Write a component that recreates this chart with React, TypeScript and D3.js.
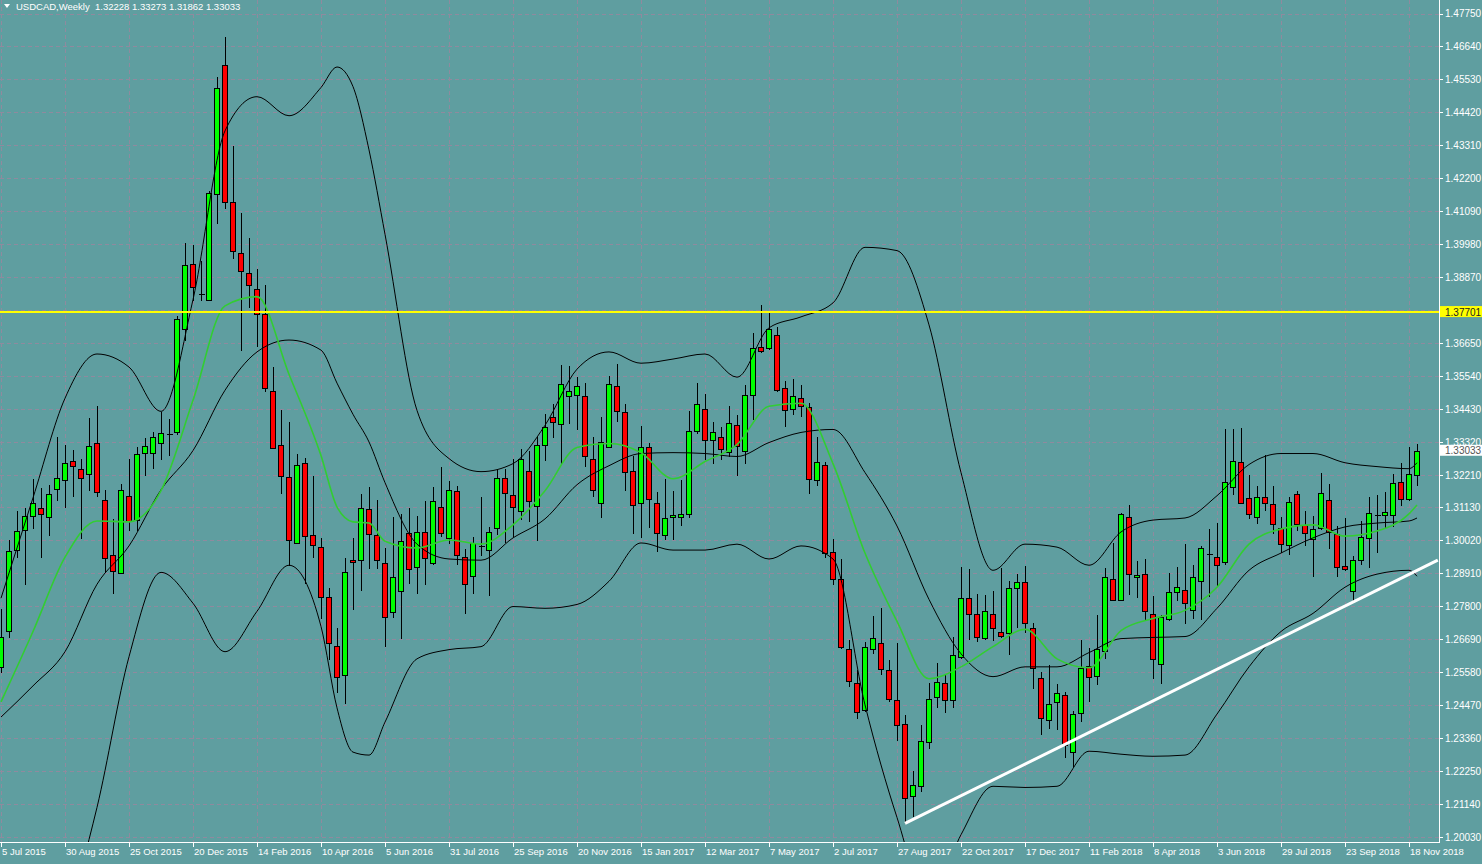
import * as d3 from "d3";

const WIDTH = 1482;
const HEIGHT = 864;
const PLOT_RIGHT = 1439;
const PLOT_BOTTOM = 842;
const FONT = "'Liberation Sans', Arial, sans-serif";

// USDCAD weekly candles, week of 5 Jul 2015 .. week of 25 Nov 2018
const opens = [
  1.2576, 1.2695, 1.2968, 1.3036, 1.3083, 1.3112, 1.3081, 1.3174, 1.3205, 1.3269,
  1.3242, 1.3225, 1.333, 1.3139, 1.2951, 1.2892, 1.315, 1.3069, 1.3296, 1.3296,
  1.333, 1.336, 1.3366, 1.3713, 1.3932, 1.3832, 1.3812, 1.4166, 1.4602, 1.4142,
  1.3968, 1.39, 1.3848, 1.3763, 1.3506, 1.3322, 1.3214, 1.2994, 1.3263, 1.3021,
  1.298, 1.2811, 1.2645, 1.2547, 1.2935, 1.2937, 1.3107, 1.302, 1.2927, 1.276,
  1.283, 1.3027, 1.2911, 1.3031, 1.2927, 1.3114, 1.3009, 1.3169, 1.2945, 1.2883,
  1.2983, 1.297, 1.3042, 1.3211, 1.3154, 1.31, 1.3235, 1.3117, 1.3323, 1.3418,
  1.3395, 1.3487, 1.349, 1.3486, 1.3276, 1.3129, 1.3315, 1.3521, 1.3433, 1.3235,
  1.3127, 1.3315, 1.3126, 1.3019, 1.3081, 1.308, 1.309, 1.3371, 1.3444, 1.3338,
  1.3351, 1.3298, 1.3391, 1.3303, 1.349, 1.3651, 1.3648, 1.3693, 1.3513, 1.3445,
  1.3481, 1.345, 1.3205, 1.3257, 1.2962, 1.287, 1.2636, 1.2522, 1.243, 1.2636,
  1.2657, 1.2565, 1.2464, 1.2385, 1.2142, 1.2176, 1.2323, 1.2473, 1.252, 1.2464,
  1.2608, 1.2808, 1.2754, 1.2672, 1.2755, 1.2694, 1.269, 1.2843, 1.286, 1.2706,
  1.254, 1.2398, 1.2458, 1.248, 1.2291, 1.2421, 1.2579, 1.2546, 1.2629, 1.287,
  1.2801, 1.3082, 1.2877, 1.2887, 1.2755, 1.2586, 1.2738, 1.2828, 1.2836, 1.2768,
  1.2866, 1.2957, 1.2945, 1.293, 1.318, 1.3264, 1.3144, 1.3081, 1.3148, 1.3124,
  1.3042, 1.2985, 1.3157, 1.3052, 1.3005, 1.3045, 1.3137, 1.3022, 1.2917, 1.283,
  1.2934, 1.3009, 1.3087, 1.3087, 1.3087, 1.3199, 1.3142, 1.32228,
];
const highs = [
  1.277, 1.3002, 1.3099, 1.3112, 1.3208, 1.3178, 1.3189, 1.3351, 1.3324, 1.3306,
  1.3276, 1.3413, 1.3453, 1.3171, 1.3073, 1.3193, 1.3277, 1.3315, 1.3345, 1.3368,
  1.3434, 1.3411, 1.3757, 1.4002, 1.3995, 1.3941, 1.4177, 1.4561, 1.4696, 1.4329,
  1.4102, 1.4018, 1.3914, 1.386, 1.3584, 1.3442, 1.3401, 1.3291, 1.3278, 1.3217,
  1.3009, 1.284, 1.2708, 1.2943, 1.3009, 1.3157, 1.3182, 1.3137, 1.2975, 1.3081,
  1.3092, 1.3112, 1.3084, 1.3135, 1.3182, 1.325, 1.3202, 1.3186, 1.2971, 1.3013,
  1.3146, 1.3047, 1.3242, 1.3242, 1.3276, 1.331, 1.3302, 1.3351, 1.3428, 1.3462,
  1.3592, 1.3588, 1.3552, 1.3533, 1.3351, 1.3417, 1.3555, 1.3597, 1.346, 1.3284,
  1.3385, 1.3329, 1.3163, 1.3208, 1.3169, 1.3205, 1.3436, 1.3533, 1.3496, 1.34,
  1.3383, 1.3453, 1.3422, 1.3524, 1.3699, 1.3795, 1.3767, 1.3719, 1.3537, 1.3544,
  1.3526, 1.3464, 1.3349, 1.3264, 1.3007, 1.294, 1.2667, 1.2565, 1.2659, 1.2746,
  1.2774, 1.2599, 1.2655, 1.2415, 1.2227, 1.2379, 1.252, 1.259, 1.255, 1.2675,
  1.2911, 1.2907, 1.2821, 1.2819, 1.283, 1.2909, 1.2864, 1.2887, 1.2915, 1.2723,
  1.256, 1.2582, 1.2517, 1.2492, 1.2427, 1.2667, 1.2638, 1.2751, 1.2909, 1.2994,
  1.3095, 1.312, 1.2932, 1.294, 1.2813, 1.2751, 1.2892, 1.2911, 1.299, 1.2918,
  1.2982, 1.3041, 1.3061, 1.3377, 1.3377, 1.3381, 1.3223, 1.3186, 1.329, 1.3186,
  1.3081, 1.3148, 1.3169, 1.3099, 1.3084, 1.3227, 1.3191, 1.305, 1.3076, 1.2949,
  1.3067, 1.3146, 1.3155, 1.3165, 1.3225, 1.3261, 1.3315, 1.33273,
];
const lows = [
  1.2555, 1.2672, 1.2943, 1.2853, 1.3041, 1.2943, 1.3016, 1.3135, 1.311, 1.3148,
  1.3005, 1.3169, 1.3146, 1.2892, 1.2821, 1.2888, 1.3033, 1.3033, 1.3217, 1.3242,
  1.3273, 1.3287, 1.3358, 1.3672, 1.3809, 1.3809, 1.3808, 1.4065, 1.4116, 1.3948,
  1.364, 1.3784, 1.3652, 1.35, 1.331, 1.3158, 1.2914, 1.2989, 1.2855, 1.2943,
  1.2738, 1.26, 1.2488, 1.2452, 1.2767, 1.283, 1.2904, 1.2907, 1.2644, 1.274,
  1.267, 1.2855, 1.2821, 1.2853, 1.292, 1.3013, 1.2988, 1.2918, 1.2753, 1.2821,
  1.2949, 1.2813, 1.302, 1.2994, 1.3013, 1.3069, 1.3065, 1.2999, 1.327, 1.3347,
  1.3259, 1.3394, 1.3372, 1.3247, 1.3146, 1.3076, 1.3313, 1.34, 1.3169, 1.3022,
  1.3011, 1.3044, 1.2962, 1.3002, 1.3002, 1.305, 1.3076, 1.336, 1.3273, 1.3259,
  1.3273, 1.3281, 1.3217, 1.3259, 1.3408, 1.3633, 1.3642, 1.3501, 1.3383, 1.3422,
  1.3417, 1.3159, 1.3186, 1.2941, 1.285, 1.2636, 1.2509, 1.2401, 1.2424, 1.2618,
  1.2548, 1.2458, 1.2328, 1.2046, 1.2069, 1.2156, 1.23, 1.2439, 1.2422, 1.2439,
  1.2604, 1.2667, 1.2659, 1.2667, 1.2663, 1.2672, 1.2616, 1.2706, 1.2689, 1.2503,
  1.2345, 1.2368, 1.2362, 1.2268, 1.2238, 1.239, 1.2458, 1.2514, 1.2604, 1.2796,
  1.2796, 1.2817, 1.2807, 1.2729, 1.2535, 1.2517, 1.2731, 1.2796, 1.272, 1.2738,
  1.2734, 1.2811, 1.2847, 1.292, 1.3155, 1.3124, 1.3073, 1.3058, 1.3101, 1.3024,
  1.296, 1.2954, 1.3033, 1.2983, 1.2877, 1.3036, 1.2971, 1.2877, 1.29, 1.2794,
  1.292, 1.2909, 1.296, 1.3044, 1.3047, 1.3118, 1.3135, 1.31862,
];
const closes = [
  1.2678, 1.2965, 1.3033, 1.3084, 1.3126, 1.309, 1.3157, 1.3211, 1.3262, 1.3252,
  1.3211, 1.332, 1.3166, 1.2941, 1.29, 1.3171, 1.3067, 1.3293, 1.3318, 1.3348,
  1.3364, 1.3357, 1.3746, 1.3929, 1.3853, 1.3829, 1.4171, 1.4524, 1.4142, 1.3977,
  1.391, 1.386, 1.3763, 1.3515, 1.3314, 1.3219, 1.3002, 1.3256, 1.3016, 1.2985,
  1.2811, 1.2657, 1.2543, 1.2896, 1.2928, 1.3111, 1.3022, 1.2937, 1.2744, 1.288,
  1.2998, 1.2904, 1.3031, 1.2941, 1.3134, 1.3027, 1.3172, 1.2954, 1.2855, 1.2993,
  1.2981, 1.3029, 1.3211, 1.3161, 1.3114, 1.3276, 1.3134, 1.3324, 1.3383, 1.3399,
  1.3527, 1.3503, 1.3521, 1.3286, 1.3171, 1.3334, 1.3527, 1.3436, 1.3231, 1.312,
  1.3315, 1.314, 1.3027, 1.3078, 1.3088, 1.309, 1.3371, 1.3462, 1.334, 1.3367,
  1.3308, 1.3398, 1.3318, 1.3492, 1.3648, 1.364, 1.3713, 1.3507, 1.3442, 1.3488,
  1.3454, 1.3208, 1.3264, 1.2958, 1.287, 1.2642, 1.2528, 1.2424, 1.2644, 1.2674,
  1.2569, 1.2469, 1.2379, 1.2134, 1.218, 1.2325, 1.2469, 1.2525, 1.2464, 1.2616,
  1.2808, 1.2754, 1.2675, 1.2765, 1.2708, 1.2681, 1.2841, 1.2862, 1.2722, 1.2573,
  1.2404, 1.2452, 1.2487, 1.2313, 1.2416, 1.2571, 1.2543, 1.2635, 1.2877, 1.2802,
  1.309, 1.2887, 1.2884, 1.2765, 1.2602, 1.2745, 1.2828, 1.2844, 1.2791, 1.2878,
  1.2975, 1.2955, 1.2918, 1.3198, 1.3268, 1.3128, 1.309, 1.3148, 1.3128, 1.3056,
  1.2988, 1.3131, 1.3056, 1.3025, 1.3039, 1.3162, 1.303, 1.2911, 1.2906, 1.2937,
  1.3013, 1.3095, 1.3085, 1.3097, 1.3195, 1.314, 1.3225, 1.33033,
];

// indicator lines at these bars
const bandBars = [
  0, 4, 8, 12, 16, 20, 24, 28, 32, 36, 40, 42, 44, 46, 48, 52, 56, 60, 64, 68, 72,
  76, 80, 84, 88, 92, 96, 100, 104, 108, 112, 116, 120, 124, 128, 132, 136, 140,
  144, 148, 152, 156, 160, 164, 168, 172, 176, 177,
];
const bbUpper = [
  1.2807, 1.3145, 1.348, 1.3629, 1.3585, 1.3436, 1.3812, 1.438, 1.4495, 1.4431,
  1.4526, 1.4595, 1.4529, 1.4316, 1.4032, 1.3439, 1.3277, 1.3233, 1.326, 1.3389,
  1.3578, 1.3636, 1.3598, 1.3612, 1.3629, 1.3551, 1.3717, 1.3754, 1.3801, 1.3988,
  1.3977, 1.3727, 1.323, 1.2901, 1.2989, 1.2979, 1.2918, 1.303, 1.307, 1.3077,
  1.3152, 1.3257, 1.3294, 1.3294, 1.3263, 1.325, 1.3243, 1.3263,
];
const bbMiddle = [
  1.2407, 1.2512, 1.2627, 1.2854, 1.2983, 1.3172, 1.3304, 1.3507, 1.3636, 1.3676,
  1.3642, 1.3531, 1.3426, 1.3333, 1.3196, 1.2989, 1.2939, 1.2935, 1.301, 1.3074,
  1.3189, 1.3253, 1.3294, 1.3297, 1.3294, 1.3284, 1.3331, 1.3365, 1.3375, 1.323,
  1.305, 1.2803, 1.262, 1.2543, 1.2576, 1.2576, 1.2624, 1.2671, 1.2675, 1.2678,
  1.2773, 1.2901, 1.2959, 1.301, 1.3047, 1.306, 1.3067, 1.3077,
];
const bbLower = [
  1.1172, 1.1443, 1.1713, 1.2103, 1.261, 1.2894, 1.279, 1.2627, 1.2763, 1.2918,
  1.2712, 1.2438, 1.2289, 1.2279, 1.239, 1.2603, 1.2634, 1.2644, 1.2779, 1.2773,
  1.2786, 1.2864, 1.2993, 1.2969, 1.2969, 1.2989, 1.2939, 1.2983, 1.2939, 1.2448,
  1.2069, 1.1781, 1.2011, 1.2174, 1.217, 1.2174, 1.2292, 1.2282, 1.2275, 1.2279,
  1.2417, 1.2576, 1.2695, 1.2756, 1.2844, 1.2888, 1.2901, 1.2881,
];
const maGreen = [
  1.2458, 1.2695, 1.2945, 1.3067, 1.3064, 1.3169, 1.3473, 1.3791, 1.3822, 1.3561,
  1.3287, 1.3114, 1.3064, 1.306, 1.2999, 1.2976, 1.3003, 1.2989, 1.3054, 1.3169,
  1.3314, 1.3328, 1.3297, 1.3209, 1.3267, 1.3324, 1.3453, 1.3463, 1.326, 1.2959,
  1.2729, 1.2536, 1.2576, 1.2644, 1.2702, 1.2603, 1.2573, 1.2698, 1.2739, 1.2766,
  1.2844, 1.2989, 1.304, 1.3054, 1.3016, 1.3033, 1.3091, 1.3121,
];

const priceTicks = [
  "1.47750", "1.46640", "1.45530", "1.44420", "1.43310", "1.42200", "1.41090",
  "1.39980", "1.38870", "1.37760", "1.36650", "1.35540", "1.34430", "1.33320",
  "1.32210", "1.31130", "1.30020", "1.28910", "1.27800", "1.26690", "1.25580",
  "1.24470", "1.23360", "1.22250", "1.21140", "1.20030",
];
const dateBars = [0, 8, 16, 24, 32, 40, 48, 56, 64, 72, 80, 88, 96, 104, 112, 120, 128, 136, 144, 152, 160, 168, 176];
const dateLabels = [
  "5 Jul 2015", "30 Aug 2015", "25 Oct 2015", "20 Dec 2015", "14 Feb 2016",
  "10 Apr 2016", "5 Jun 2016", "31 Jul 2016", "25 Sep 2016", "20 Nov 2016",
  "15 Jan 2017", "12 Mar 2017", "7 May 2017", "2 Jul 2017", "27 Aug 2017",
  "22 Oct 2017", "17 Dec 2017", "11 Feb 2018", "8 Apr 2018", "3 Jun 2018",
  "29 Jul 2018", "23 Sep 2018", "18 Nov 2018",
];

const levelPrice = 1.37701;
const lastPrice = 1.33033;
const trendBars = [113, 179.6];
const trendPrices = [1.2049, 1.2935];

const GRID = "#8f8a9e";

const App = () => {
  const x = d3.scaleLinear().domain([0, 1]).range([1, 9]);
  const y = d3.scaleLinear().domain([1.19831, 1.48205]).range([PLOT_BOTTOM + 1, 0]);

  const bandLine = (vals: number[]) =>
    d3
      .line<number>()
      .x((_, i) => x(bandBars[i]))
      .y((d) => y(d))
      .curve(d3.curveMonotoneX)(vals) ?? "";

  const trendPath =
    d3
      .line<number>()
      .x((_, i) => x(trendBars[i]))
      .y((d) => y(d))(trendPrices) ?? "";

  const px = (v: number) => Math.round(v) + 0.5;

  return (
    <div>
      <style>{"body{margin:0}"}</style>
      <svg width={WIDTH} height={HEIGHT} style={{ display: "block", background: "#5f9ea0" }} fontFamily={FONT}>
        <defs>
          <clipPath id="plot">
            <rect x={0} y={0} width={PLOT_RIGHT} height={PLOT_BOTTOM} />
          </clipPath>
        </defs>

        {/* grid */}
        <g stroke={GRID} strokeDasharray="4 3" shapeRendering="crispEdges">
          {priceTicks.map((t) => (
            <line key={t} x1={0} x2={PLOT_RIGHT} y1={px(y(+t))} y2={px(y(+t))} />
          ))}
          {dateBars.map((b) => (
            <line key={b} x1={px(x(b))} x2={px(x(b))} y1={0} y2={PLOT_BOTTOM} />
          ))}
        </g>

        <g clipPath="url(#plot)">
          {/* candles */}
          <g shapeRendering="crispEdges">
            {closes.map((c, i) => {
              const o = opens[i];
              const cx = px(x(i));
              const top = Math.round(y(Math.max(o, c)));
              const bot = Math.round(y(Math.min(o, c)));
              const doji = bot - top < 2;
              return (
                <g key={i}>
                  <line x1={cx} x2={cx} y1={Math.round(y(highs[i]))} y2={Math.round(y(lows[i]))} stroke="#000" />
                  {doji ? (
                    <line x1={cx - 3} x2={cx + 3} y1={top + 0.5} y2={top + 0.5} stroke="#000" />
                  ) : (
                    <rect
                      x={cx - 3}
                      y={top + 0.5}
                      width={5}
                      height={bot - top}
                      fill={c > o ? "#00ff00" : "#ff0000"}
                      stroke="#000"
                    />
                  )}
                </g>
              );
            })}
          </g>

          {/* bollinger bands and moving average */}
          <g fill="none">
            <path d={bandLine(bbUpper)} stroke="#000" strokeWidth={1} />
            <path d={bandLine(bbMiddle)} stroke="#000" strokeWidth={1} />
            <path d={bandLine(bbLower)} stroke="#000" strokeWidth={1} />
            <path d={bandLine(maGreen)} stroke="#32cd32" strokeWidth={1.6} />
          </g>

          <line x1={0} x2={PLOT_RIGHT} y1={y(levelPrice)} y2={y(levelPrice)} stroke="#ffff00" strokeWidth={2} />
          <path d={trendPath} stroke="#ffffff" strokeWidth={3} fill="none" />
        </g>

        {/* axes */}
        <g stroke="#ffffff" shapeRendering="crispEdges">
          <line x1={PLOT_RIGHT + 0.5} x2={PLOT_RIGHT + 0.5} y1={0} y2={PLOT_BOTTOM + 1} />
          <line x1={0} x2={PLOT_RIGHT + 1} y1={PLOT_BOTTOM + 0.5} y2={PLOT_BOTTOM + 0.5} />
          {priceTicks.map((t) => (
            <line key={t} x1={PLOT_RIGHT} x2={PLOT_RIGHT + 4} y1={px(y(+t))} y2={px(y(+t))} />
          ))}
          {dateBars.map((b) => (
            <line key={b} x1={px(x(b))} x2={px(x(b))} y1={PLOT_BOTTOM} y2={PLOT_BOTTOM + 5} />
          ))}
        </g>
        <g fill="#ffffff">
          {priceTicks.map((t) => (
            <text key={t} x={PLOT_RIGHT + 6} y={y(+t) + 3.5} fontSize={10}>
              {t}
            </text>
          ))}
          {dateLabels.map((d, i) => (
            <text key={d} x={x(dateBars[i]) + 1} y={855} fontSize={9.5}>
              {d}
            </text>
          ))}
        </g>

        {/* price markers */}
        <rect x={PLOT_RIGHT + 1} y={y(levelPrice) - 6} width={WIDTH - PLOT_RIGHT - 1} height={11} fill="#ffff00" />
        <text x={PLOT_RIGHT + 6} y={y(levelPrice) + 3.5} fontSize={10} fill="#222">
          {levelPrice.toFixed(5)}
        </text>
        <rect x={PLOT_RIGHT + 1} y={y(lastPrice) - 6} width={WIDTH - PLOT_RIGHT - 1} height={11} fill="#ffffff" />
        <text x={PLOT_RIGHT + 6} y={y(lastPrice) + 3.5} fontSize={10} fill="#555">
          {lastPrice.toFixed(5)}
        </text>

        {/* header */}
        <path d="M4,4 L10,4 L7,8 Z" fill="#ffffff" />
        <text x={16} y={10} fontSize={9.5} fill="#ffffff" style={{ whiteSpace: "pre" }}>
          {"USDCAD,Weekly  1.32228 1.33273 1.31862 1.33033"}
        </text>
      </svg>
    </div>
  );
};

export default App;
